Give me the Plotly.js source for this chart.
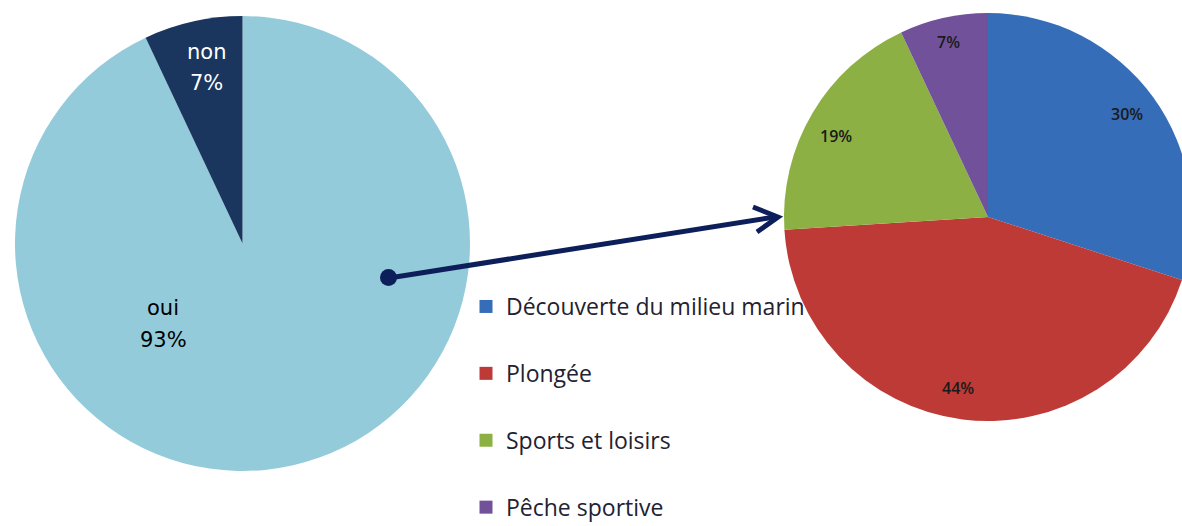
<!DOCTYPE html>
<html>
<head>
<meta charset="utf-8">
<script src="https://cdn.plot.ly/plotly-3.0.1.min.js"></script>
<style>
  html, body { margin: 0; padding: 0; overflow: hidden; background: #fff; }
  #chart { width: 1200px; height: 526px; }
</style>
</head>
<body>
<div id="chart"></div>
<script>
// Left pie: practise or not
const answerLabels = ['oui', 'non'];
const answerValues = [93, 7];
const answerColors = ['#94cbdb', '#1a365e'];

// Right pie: activity breakdown
const activityLabels = ['Découverte du milieu marin', 'Plongée', 'Sports et loisirs', 'Pêche sportive'];
const activityValues = [30, 44, 19, 7];
const activityColors = ['#356db8', '#bd3a36', '#8cb043', '#71529a'];

// page geometry (pixels -> paper)
const W = 1200, H = 526;
const px = x => x / W;
const py = y => 1 - y / H;

const leftPie = {
    type: 'pie',
    labels: answerLabels,
    values: answerValues,
    marker: { colors: answerColors, line: { width: 0 } },
    sort: false,
    direction: 'clockwise',
    rotation: 0,
    textinfo: 'none',
    hoverinfo: 'label+percent',
    showlegend: false,
    domain: { x: [px(15), px(470)], y: [py(471), py(16)] }
};

const rightPie = {
    type: 'pie',
    labels: activityLabels,
    values: activityValues,
    marker: { colors: activityColors, line: { width: 0 } },
    sort: false,
    direction: 'clockwise',
    rotation: 0,
    textinfo: 'none',
    hoverinfo: 'label+percent',
    showlegend: false,
    domain: { x: [px(784), px(1192)], y: [py(421), py(13)] }
};

// legend entries (one group each so the rows can be spaced out)
const legendTraces = activityLabels.map((label, i) => ({
    type: 'scatter',
    mode: 'markers',
    x: [null],
    y: [null],
    name: label,
    legendgroup: 'g' + i,
    marker: { symbol: 'square', size: 13, color: activityColors[i] },
    hoverinfo: 'skip'
}));

// label spots on the slices
const leftLabelPos = [[163, 308, 163, 340], [206, 52, 206, 83]];
const leftLabelColor = ['#000000', '#ffffff'];
const rightLabelPos = [[1127, 114], [958, 388], [836, 136], [948, 42]];

const annotations = [];
const note = (x, y, text, font) => ({
    xref: 'paper', yref: 'paper', x: px(x), y: py(y),
    xanchor: 'center', yanchor: 'middle',
    text: text, showarrow: false, font: font
});
answerLabels.forEach((label, i) => {
    const p = leftLabelPos[i];
    const f = { family: 'DejaVu Sans', size: 21, color: leftLabelColor[i] };
    annotations.push(note(p[0], p[1], label, f));
    annotations.push(note(p[2], p[3], answerValues[i] + '%', f));
});
activityValues.forEach((v, i) => {
    const p = rightLabelPos[i];
    annotations.push(note(p[0], p[1], v + '%',
        { family: 'Open Sans', size: 16, color: '#1a1a1a', weight: 600 }));
});

// connector arrow from the "oui" slice to the breakdown
const navy = '#0d1f5a';
const shapes = [
    { type: 'line', xref: 'paper', yref: 'paper', x0: px(389), y0: py(278), x1: px(775), y1: py(217),
      line: { color: navy, width: 5 } },
    { type: 'path', xref: 'paper', yref: 'paper',
      path: `M ${px(753)} ${py(207)} L ${px(778)} ${py(217)} L ${px(757)} ${py(232)}`,
      line: { color: navy, width: 5 } },
    { type: 'circle', xref: 'paper', yref: 'paper', x0: px(380), y0: py(286), x1: px(397), y1: py(269),
      fillcolor: navy, line: { color: navy, width: 0 } }
];

const layout = {
    width: W,
    height: H,
    margin: { t: 0, b: 0, l: 0, r: 0, autoexpand: false },
    paper_bgcolor: '#ffffff',
    plot_bgcolor: '#ffffff',
    xaxis: { visible: false },
    yaxis: { visible: false },
    showlegend: true,
    legend: {
        x: px(466), y: py(285), xanchor: 'left', yanchor: 'top',
        tracegroupgap: 34,
        itemwidth: 30,
        bgcolor: 'rgba(0,0,0,0)',
        font: { family: 'Open Sans', size: 23, color: '#222233' }
    },
    annotations: annotations,
    shapes: shapes
};

Plotly.newPlot('chart', [leftPie, rightPie, ...legendTraces], layout, { displayModeBar: false, staticPlot: true });
</script>
</body>
</html>
